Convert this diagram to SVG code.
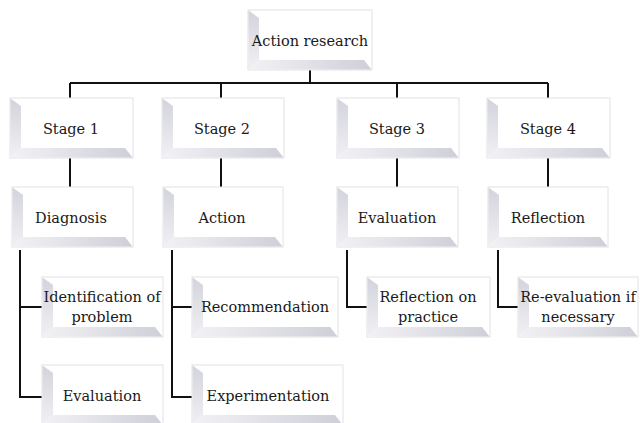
<svg xmlns="http://www.w3.org/2000/svg" width="640" height="423" viewBox="0 0 640 423">
<defs>
<linearGradient id="gL" x1="0" y1="0" x2="0" y2="1"><stop offset="0" stop-color="#d3d3dc"/><stop offset="1" stop-color="#f0f0f4"/></linearGradient>
<linearGradient id="gB" x1="0" y1="0" x2="1" y2="0"><stop offset="0" stop-color="#f2f2f5"/><stop offset="1" stop-color="#cfcfd9"/></linearGradient>
<style>
.o{fill:#ffffff;stroke:#e2e2e8;stroke-width:1}
.l{fill:url(#gL)}
.b{fill:url(#gB)}
text{font-family:"DejaVu Serif","Liberation Serif",serif;font-size:14.5px;fill:#1a1a1a;text-anchor:middle}
.cn{fill:none;stroke:#111;stroke-width:2}
</style>
</defs>
<g id="connectors">
<path class="cn" d="M310,70V83M70,83H548M70,83V98M221,83V98M397,83V98M548,83V98"/>
<path class="cn" d="M70,158V187M221,158V187M397,158V187M548,158V187"/>
<path class="cn" d="M20,250V397H42M20,307H42"/>
<path class="cn" d="M172,250V397H192M172,307H192"/>
<path class="cn" d="M347,250V307H367"/>
<path class="cn" d="M498,250V307H518"/>
</g>
<g id="n0"><rect class="o" x="248" y="10" width="124" height="60"/><polygon class="l" points="248.5,10.5 259,18 259,60 248.5,69.5"/><polygon class="b" points="248.5,69.5 259,60 364,60 371.5,69.5"/><text x="310" y="46">Action research</text></g>
<g id="s1"><rect class="o" x="10" y="98" width="123" height="60"/><polygon class="l" points="10.5,98.5 21,106 21,148 10.5,157.5"/><polygon class="b" points="10.5,157.5 21,148 125,148 132.5,157.5"/><text x="71" y="134">Stage 1</text></g>
<g id="s2"><rect class="o" x="162" y="98" width="122" height="60"/><polygon class="l" points="162.5,98.5 173,106 173,148 162.5,157.5"/><polygon class="b" points="162.5,157.5 173,148 276,148 283.5,157.5"/><text x="222" y="134">Stage 2</text></g>
<g id="s3"><rect class="o" x="337" y="98" width="122" height="60"/><polygon class="l" points="337.5,98.5 348,106 348,148 337.5,157.5"/><polygon class="b" points="337.5,157.5 348,148 451,148 458.5,157.5"/><text x="397" y="134">Stage 3</text></g>
<g id="s4"><rect class="o" x="487" y="98" width="123" height="60"/><polygon class="l" points="487.5,98.5 498,106 498,148 487.5,157.5"/><polygon class="b" points="487.5,157.5 498,148 602,148 609.5,157.5"/><text x="548" y="134">Stage 4</text></g>
<g id="d1"><rect class="o" x="12" y="187" width="121" height="60"/><polygon class="l" points="12.5,187.5 23,195 23,237 12.5,246.5"/><polygon class="b" points="12.5,246.5 23,237 125,237 132.5,246.5"/><text x="71" y="223">Diagnosis</text></g>
<g id="d2"><rect class="o" x="163" y="187" width="120" height="60"/><polygon class="l" points="163.5,187.5 174,195 174,237 163.5,246.5"/><polygon class="b" points="163.5,246.5 174,237 275,237 282.5,246.5"/><text x="222" y="223">Action</text></g>
<g id="d3"><rect class="o" x="337" y="187" width="121" height="60"/><polygon class="l" points="337.5,187.5 348,195 348,237 337.5,246.5"/><polygon class="b" points="337.5,246.5 348,237 450,237 457.5,246.5"/><text x="397" y="223">Evaluation</text></g>
<g id="d4"><rect class="o" x="488" y="187" width="120" height="60"/><polygon class="l" points="488.5,187.5 499,195 499,237 488.5,246.5"/><polygon class="b" points="488.5,246.5 499,237 600,237 607.5,246.5"/><text x="548" y="223">Reflection</text></g>
<g id="c11"><rect class="o" x="42" y="277" width="121" height="60"/><polygon class="l" points="42.5,277.5 53,285 53,327 42.5,336.5"/><polygon class="b" points="42.5,336.5 53,327 155,327 162.5,336.5"/><text x="102" y="302">Identification of</text><text x="102" y="322">problem</text></g>
<g id="c12"><rect class="o" x="42" y="365" width="121" height="60"/><polygon class="l" points="42.5,365.5 53,373 53,415 42.5,424.5"/><polygon class="b" points="42.5,424.5 53,415 155,415 162.5,424.5"/><text x="102" y="401">Evaluation</text></g>
<g id="c21"><rect class="o" x="192" y="277" width="146" height="60"/><polygon class="l" points="192.5,277.5 203,285 203,327 192.5,336.5"/><polygon class="b" points="192.5,336.5 203,327 330,327 337.5,336.5"/><text x="265" y="312">Recommendation</text></g>
<g id="c22"><rect class="o" x="192" y="365" width="151" height="60"/><polygon class="l" points="192.5,365.5 203,373 203,415 192.5,424.5"/><polygon class="b" points="192.5,424.5 203,415 335,415 342.5,424.5"/><text x="268" y="401">Experimentation</text></g>
<g id="c31"><rect class="o" x="367" y="277" width="123" height="60"/><polygon class="l" points="367.5,277.5 378,285 378,327 367.5,336.5"/><polygon class="b" points="367.5,336.5 378,327 482,327 489.5,336.5"/><text x="428" y="302">Reflection on</text><text x="428" y="322">practice</text></g>
<g id="c41"><rect class="o" x="518" y="277" width="120" height="60"/><polygon class="l" points="518.5,277.5 529,285 529,327 518.5,336.5"/><polygon class="b" points="518.5,336.5 529,327 630,327 637.5,336.5"/><text x="578" y="302">Re-evaluation if</text><text x="578" y="322">necessary</text></g>
</svg>
